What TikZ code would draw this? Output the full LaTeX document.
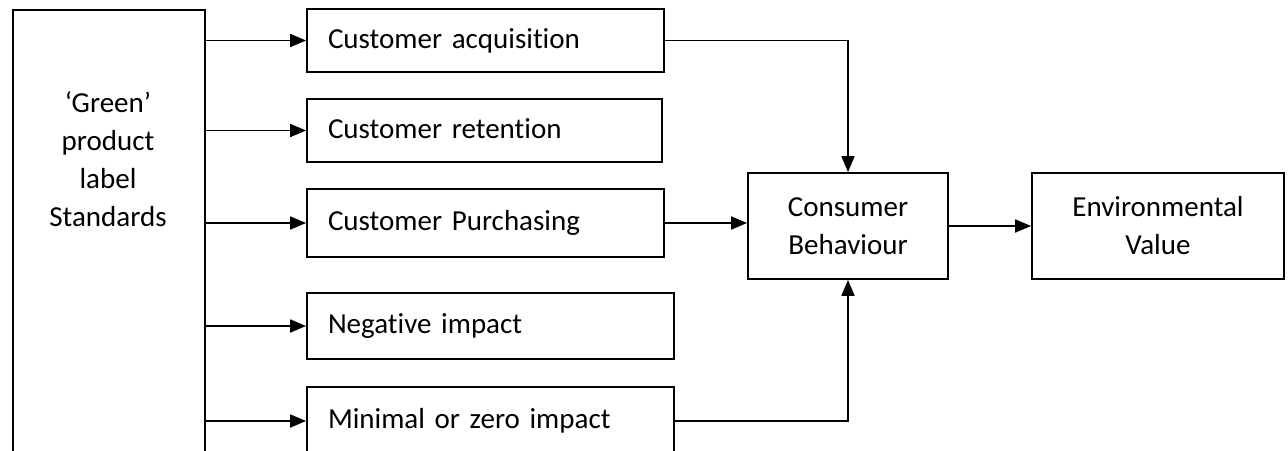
\documentclass[tikz,border=0pt]{standalone}
\usepackage{fontspec}
\setmainfont{Carlito}[Ligatures=NoCommon]
\usetikzlibrary{arrows.meta}

\begin{document}
\begin{tikzpicture}[x=1pt, y=-1pt, line width=1.8pt,
	box/.style = {draw, rectangle, font=\fontsize{29}{38}\selectfont},
	midbox/.style = {box, align=left, inner xsep=21pt, text height=21pt, text depth=6pt},
	arr/.style = {-{Triangle[length=16pt, width=13pt]}}]

		\useasboundingbox (0, 0) rectangle (1288, 450);
		\clip (0, 0) rectangle (1288, 450);

		\node[box, anchor=north west, minimum width=192pt, minimum height=480pt] (std) at (12, 9) {};
		\node[font=\fontsize{29}{38}\selectfont, align=center] (stdtext) at (108, 159) {‘Green’\\product\\label\\Standards};

		\node[midbox, text width=315pt, minimum height=63pt] (acq) at (485.5, 40.5) {Customer acquisition};
		\node[midbox, text width=313pt, minimum height=63pt] (ret) at (484.5, 130.5) {Customer retention};
		\node[midbox, text width=315pt, minimum height=68pt] (pur) at (485.5, 223) {Customer Purchasing};
		\node[midbox, text width=325pt, minimum height=66pt] (neg) at (490.5, 326) {Negative impact};
		\node[midbox, text width=325pt, minimum height=68pt] (zero) at (490.5, 421) {Minimal or zero impact};

		\node[box, align=center, minimum width=200pt, minimum height=106pt] (cb) at (848, 226) {Consumer\\Behaviour};
		\node[box, align=center, minimum width=252pt, minimum height=106pt] (env) at (1158, 226) {Environmental\\Value};

		\draw[arr] (std.east |- acq.west) -- (acq.west);
		\draw[arr] (std.east |- ret.west) -- (ret.west);
		\draw[arr] (std.east |- pur.west) -- (pur.west);
		\draw[arr] (std.east |- neg.west) -- (neg.west);
		\draw[arr] (std.east |- zero.west) -- (zero.west);

		\draw[arr] (acq.east) -| (cb.north);
		\draw[arr] (pur.east) -- (pur.east -| cb.west);
		\draw[arr] (zero.east) -| (cb.south);
		\draw[arr] (cb.east) -- (env.west);

	\end{tikzpicture}
\end{document}
